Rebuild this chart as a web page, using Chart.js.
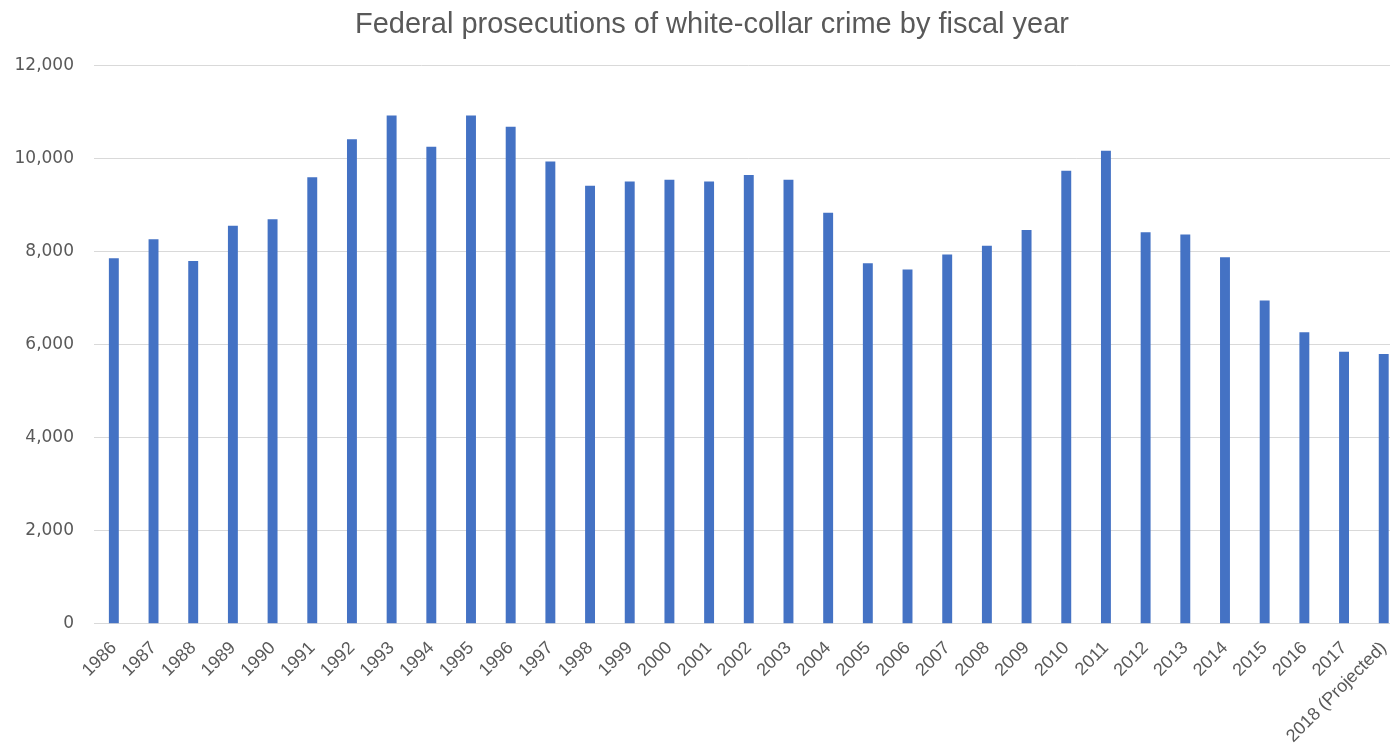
<!DOCTYPE html>
<html>
<head>
<meta charset="utf-8">
<script src="https://cdn.jsdelivr.net/npm/chart.js@4/dist/chart.umd.min.js"></script>
<style>
    html, body { margin: 0; padding: 0; background: #fff; overflow: hidden; }
    #wrap { width: 1413px; height: 761px; }
</style>
</head>
<body>
<div id="wrap"><canvas id="crimeChart"></canvas></div>
<script>
// Năm tài chính (trục X)
const years = ['1986', '1987', '1988', '1989', '1990', '1991', '1992', '1993', '1994', '1995',
    '1996', '1997', '1998', '1999', '2000', '2001', '2002', '2003', '2004', '2005',
    '2006', '2007', '2008', '2009', '2010', '2011', '2012', '2013', '2014', '2015',
    '2016', '2017', '2018 (Projected)'];

// Số vụ truy tố
const prosecutions = [7860, 8270, 7800, 8560, 8700, 9600, 10420, 10930, 10260, 10930,
    10690, 9940, 9420, 9510, 9550, 9510, 9650, 9550, 8840, 7750,
    7620, 7940, 8130, 8470, 9740, 10170, 8420, 8370, 7880, 6950,
    6270, 5850, 5800];

const chartTitle = 'Federal prosecutions of white-collar crime by fiscal year';
const yMax = 12000;
const yStep = 2000;

// Dịch tiêu đề sang phải một chút cho giống hình gốc
const shiftTitle = {
    id: 'shiftTitle',
    afterLayout: function (chart) {
        if (chart.titleBlock) {
            chart.titleBlock.left += 11;
        }
    }
};

document.addEventListener("DOMContentLoaded", function () {
    const ctx = document.getElementById('crimeChart').getContext('2d');
    const grey = '#595959';
    window.myChart = new Chart(ctx, {
        type: 'bar',
        data: {
            labels: years,
            datasets: [{
                label: 'Prosecutions',
                data: prosecutions,
                backgroundColor: '#4472C4',
                borderWidth: 0,
                barPercentage: 0.5,
                categoryPercentage: 0.5
            }]
        },
        options: {
            responsive: true,
            maintainAspectRatio: false,
            animation: false,
            layout: { padding: { left: 0, right: 0, top: 0, bottom: 0 } },
            plugins: {
                legend: { display: false },
                tooltip: { enabled: false },
                title: {
                    display: true,
                    text: chartTitle,
                    color: grey,
                    font: { family: 'Liberation Sans, Arial, sans-serif', size: 29, weight: 'normal' },
                    padding: { top: 8, bottom: 23 }
                }
            },
            scales: {
                x: {
                    grid: { display: false, drawTicks: false },
                    border: { display: true, color: '#d9d9d9', width: 1 },
                    ticks: {
                        color: grey,
                        font: { family: 'Liberation Sans, Arial, sans-serif', size: 18 },
                        minRotation: 45,
                        maxRotation: 45,
                        autoSkip: false,
                        padding: 14
                    }
                },
                y: {
                    min: 0,
                    max: yMax,
                    grid: { color: '#d9d9d9', drawTicks: false },
                    border: { display: false },
                    afterFit: function (scale) { scale.width = 94; },
                    ticks: {
                        stepSize: yStep,
                        color: grey,
                        padding: 20,
                        font: { family: 'DejaVu Sans, sans-serif', size: 17 },
                        callback: function (v) { return v.toLocaleString('en-US'); }
                    }
                }
            }
        },
        plugins: [shiftTitle]
    });
});
</script>
</body>
</html>
